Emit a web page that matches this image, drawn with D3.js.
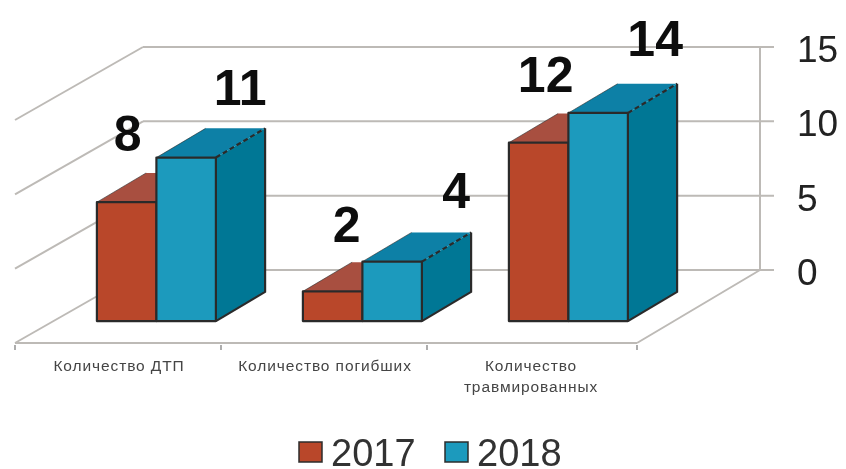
<!DOCTYPE html>
<html lang="ru">
<head>
<meta charset="utf-8">
<script src="https://cdn.jsdelivr.net/npm/d3@7"></script>
<style>
  html, body { margin: 0; padding: 0; background: #fff; }
  svg { display: block; font-family: "Liberation Sans", Arial, sans-serif; }
</style>
</head>
<body>
<div id="chart"></div>
<script>
// ── Data ─────────────────────────────────────────────
const categories = ["Количество ДТП", "Количество погибших", "Количество травмированных"];
const years = ["2017", "2018"];
const values2017 = [8, 2, 12];
const values2018 = [11, 4, 14];
const yTicks = [0, 5, 10, 15];

// ── Layout ───────────────────────────────────────────
const width = 846, height = 469;

const colors = {
  "2017": { front: "#b9472b", top: "#a84f40", side: "#a84f40" },
  "2018": { front: "#1a9abd", top: "#0a80a6", side: "#057795" }
};

// front floor edge runs x 15..637 at y 343, the back wall sits up and to the right
const floorLeft = 15, floorRight = 637, backLeft = 143;
const xBand = d3.scaleBand().domain(categories).range([floorLeft, 633]);
const xGroup = d3.scaleBand().domain(years).range([0, 119]);
const yVal = d3.scaleLinear().domain([0, 15]).range([0, 223]);
const depthX = d3.scaleLinear().domain([0, 1]).range([0, 123]);
const depthY = d3.scaleLinear().domain([0, 1]).range([343, 270]);

// project chart coords (x on the front edge, value, depth 0..1) to the page
const px = (x, d) => x + depthX(d);
const py = (v, d) => depthY(d) - yVal(v);
const pt = (x, v, d) => [px(x, d), py(v, d)];
const path = pts => "M" + pts.map(p => p.join(",")).join("L") + "Z";
const groupStart = cat => xBand(cat) + (xBand.bandwidth() - xGroup.range()[1]) / 2 + 1.5;

const barNear = 0.3, barFar = 0.7;

const svg = d3.select("#chart").append("svg")
  .attr("width", width).attr("height", height);

// the reference is a soft scan
svg.append("defs").append("filter").attr("id", "soft")
  .append("feGaussianBlur").attr("stdDeviation", 0.7);

const root = svg.append("g").attr("filter", "url(#soft)");

// ── Walls ────────────────────────────────────────────
const grid = root.append("g")
  .attr("stroke", "#bdbab6").attr("stroke-width", 2).attr("fill", "none");

yTicks.forEach(t => {
  // left wall
  grid.append("line")
    .attr("x1", px(floorLeft, 0)).attr("y1", py(t, 0))
    .attr("x2", backLeft).attr("y2", py(t, 1));
  // back wall + tick out to the labels
  grid.append("line")
    .attr("x1", backLeft).attr("y1", py(t, 1))
    .attr("x2", px(floorRight, 1) + 14).attr("y2", py(t, 1));
});

// right edge of the floor and the vertical axis
grid.append("line")
  .attr("x1", px(floorRight, 0)).attr("y1", py(0, 0))
  .attr("x2", px(floorRight, 1)).attr("y2", py(0, 1));
grid.append("line")
  .attr("x1", px(floorRight, 1)).attr("y1", py(0, 1))
  .attr("x2", px(floorRight, 1)).attr("y2", py(15, 1));
// front floor edge
grid.append("line")
  .attr("x1", px(floorLeft, 0)).attr("y1", py(0, 0))
  .attr("x2", px(floorRight, 0)).attr("y2", py(0, 0));

// category tick marks under the floor
categories.map(c => xBand(c)).concat([floorRight]).forEach(x => {
  root.append("line")
    .attr("x1", x).attr("x2", x)
    .attr("y1", 345).attr("y2", 350)
    .attr("stroke", "#777").attr("stroke-width", 1.2);
});

// y tick labels
root.append("g").selectAll("text")
  .data(yTicks)
  .join("text")
    .attr("x", 797)
    .attr("y", d => py(d, 1) + 15)
    .attr("font-size", 37)
    .attr("fill", "#222")
    .text(d => d);

// ── Bars ─────────────────────────────────────────────
const series = [
  { year: "2017", values: values2017 },
  { year: "2018", values: values2018 }
];
const stroke = "#2c2c2c";

categories.forEach((cat, i) => {
  const g = root.append("g")
    .attr("stroke", stroke).attr("stroke-width", 2.2).attr("stroke-linejoin", "round");

  series.forEach(s => {
    const v = s.values[i];
    const c = colors[s.year];
    const l = groupStart(cat) + xGroup(s.year);
    const r = l + xGroup.bandwidth();

    // top
    g.append("path")
      .attr("d", path([pt(l, v, barNear), pt(r, v, barNear), pt(r, v, barFar), pt(l, v, barFar)]))
      .attr("fill", c.top).attr("stroke", "none");
    // thin near-left edge of the top
    g.append("line")
      .attr("x1", px(l, barNear)).attr("y1", py(v, barNear))
      .attr("x2", px(l, barFar)).attr("y2", py(v, barFar))
      .attr("stroke-width", 1).attr("stroke-opacity", 0.6);
    // side, filled first so its top edge can stay dashed
    g.append("path")
      .attr("d", path([pt(r, 0, barNear), pt(r, v, barNear), pt(r, v, barFar), pt(r, 0, barFar)]))
      .attr("fill", c.side).attr("stroke", "none");
    g.append("path")
      .attr("d", "M" + [pt(r, v, barFar), pt(r, 0, barFar), pt(r, 0, barNear)].map(p => p.join(",")).join("L"))
      .attr("fill", "none");
    // front
    g.append("path")
      .attr("d", path([pt(l, 0, barNear), pt(r, 0, barNear), pt(r, v, barNear), pt(l, v, barNear)]))
      .attr("fill", c.front);
    // dashed top right edge
    g.append("line")
      .attr("x1", px(r, barNear)).attr("y1", py(v, barNear))
      .attr("x2", px(r, barFar)).attr("y2", py(v, barFar))
      .attr("stroke-dasharray", "5,3");
  });
});

// ── Value labels, hand placed in the original ────────
const labelOffsets = {
  "2017": [[1, -51], [14, -49], [7, -51]],
  "2018": [[54, -53], [64, -54], [57, -57]]
};
series.forEach(s => {
  s.values.forEach((v, i) => {
    const cx = px(groupStart(categories[i]) + xGroup(s.year) + xGroup.bandwidth() / 2, barNear);
    const off = labelOffsets[s.year][i];
    root.append("text")
      .attr("x", cx + off[0])
      .attr("y", py(v, barNear) + off[1])
      .attr("text-anchor", "middle")
      .attr("font-size", 50)
      .attr("font-weight", "bold")
      .attr("fill", "#111")
      .text(v);
  });
});

// ── Category labels ──────────────────────────────────
const catLines = [["Количество ДТП"], ["Количество погибших"], ["Количество", "травмированных"]];
catLines.forEach((lines, i) => {
  const t = root.append("text")
    .attr("text-anchor", "middle")
    .attr("font-size", 15.5)
    .attr("letter-spacing", 0.9)
    .attr("fill", "#444");
  lines.forEach((ln, j) => {
    t.append("tspan")
      .attr("x", xBand(categories[i]) + xBand.bandwidth() / 2 + 1)
      .attr("y", 371 + j * 21)
      .text(ln);
  });
});

// ── Legend ───────────────────────────────────────────
const legendX = d3.scaleOrdinal().domain(years).range([299, 445]);
years.forEach(y => {
  root.append("rect")
    .attr("x", legendX(y)).attr("y", 442)
    .attr("width", 23).attr("height", 20)
    .attr("fill", colors[y].front)
    .attr("stroke", stroke).attr("stroke-width", 1.5);
  root.append("text")
    .attr("x", legendX(y) + 32).attr("y", 466)
    .attr("font-size", 38)
    .attr("fill", "#333")
    .text(y);
});
</script>
</body>
</html>
